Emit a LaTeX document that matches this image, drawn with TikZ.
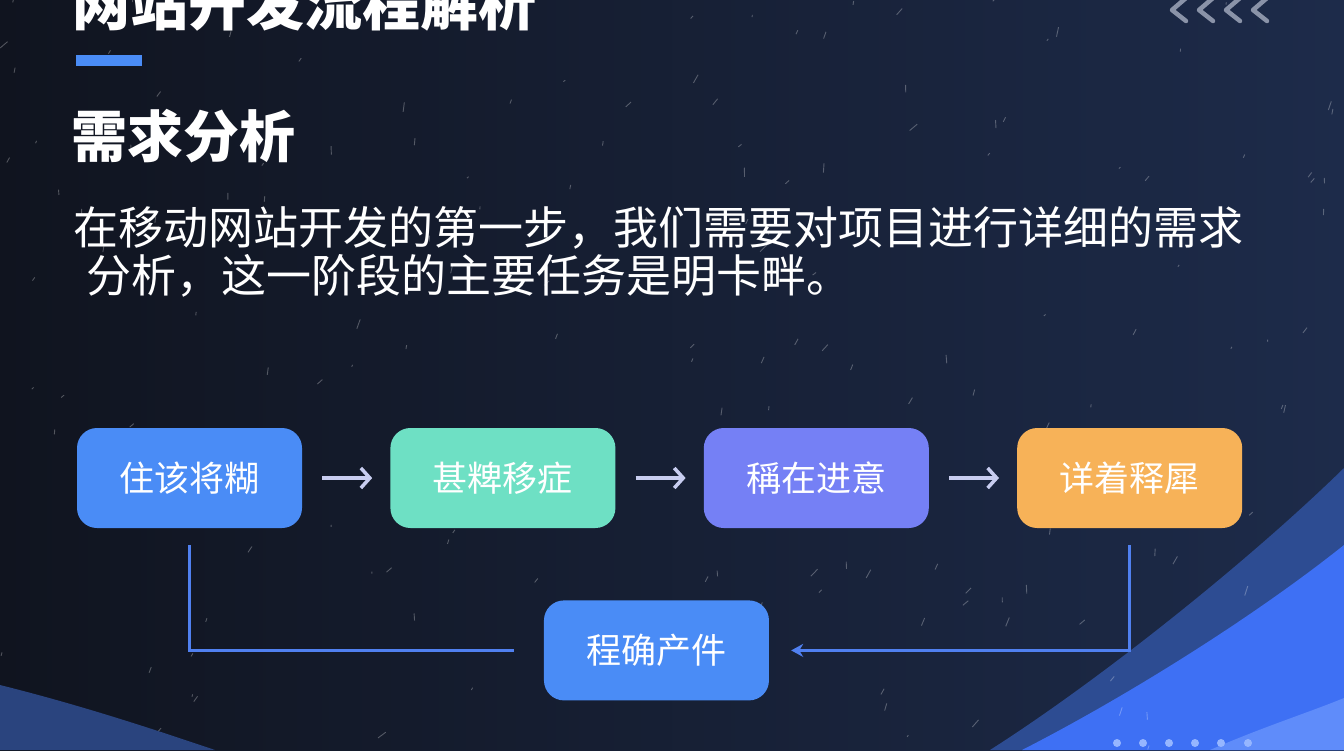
\documentclass[tikz,border=0pt]{standalone}
\usepackage{fontspec}
\newfontfamily\cjk{Noto Sans CJK SC}
\usetikzlibrary{positioning, calc, arrows.meta}

\definecolor{bgleft}{RGB}{16,20,31}
\definecolor{bgright}{RGB}{29,43,74}
\definecolor{cornerblue}{RGB}{42,68,126}
\definecolor{bandblue}{RGB}{45,76,146}
\definecolor{brightblue}{RGB}{62,112,244}
\definecolor{paleblue}{RGB}{95,140,250}
\definecolor{boxblue}{RGB}{74,140,246}
\definecolor{boxmint}{RGB}{110,224,196}
\definecolor{boxviolet}{RGB}{117,128,245}
\definecolor{boxorange}{RGB}{247,178,88}
\definecolor{linkblue}{RGB}{80,128,240}
\definecolor{arrowgray}{RGB}{200,205,240}
\definecolor{chevgray}{RGB}{138,147,168}
\definecolor{dotblue}{RGB}{150,182,255}

\tikzset{
    stepbox/.style={rounded corners=20pt, minimum width=225pt, minimum height=100pt,
        inner sep=0pt, text=white, font=\cjk\fontsize{35}{35}\selectfont},
    steparrow/.style={draw=arrowgray, line width=3.5pt, -{Straight Barb[length=9pt, width=20pt]},
        shorten <=20pt, shorten >=18pt},
    linkline/.style={draw=linkblue, line width=2.5pt},
    headline/.style={anchor=base west, inner sep=0pt, text=white},
}

\begin{document}
\begin{tikzpicture}[x=1pt, y=-1pt, node distance=88pt]
        % background
        \shade[left color=bgleft, right color=bgright] (0,0) rectangle (1344,750);
        \useasboundingbox (0,0) rectangle (1344,750);
        \fill[cornerblue] (0,685) .. controls (80,705) and (150,728) .. (215,750) -- (0,750) -- cycle;
        \fill[bandblue] (990,750) .. controls (1100,680) and (1250,560) .. (1344,468) -- (1344,750) -- cycle;
        \fill[brightblue] (1022,750) .. controls (1120,700) and (1250,620) .. (1344,545) -- (1344,750) -- cycle;
        \fill[paleblue] (1210,750) .. controls (1260,728) and (1310,712) .. (1344,698) -- (1344,750) -- cycle;

        % specks
        \pgfmathsetseed{11}
        \foreach \i in {1,...,170} {
            \pgfmathsetmacro{\sx}{1344*rnd}
            \pgfmathsetmacro{\sy}{750*rnd}
            \pgfmathsetmacro{\sa}{-95+60*rnd}
            \pgfmathsetmacro{\sl}{2+8*rnd}
            \draw[white, opacity=0.28, line width=0.9pt] (\sx,\sy) -- ++(\sa:\sl);
        }

        % chevrons and dots
        \foreach \cx in {1172,1199,1226,1253}
            \draw[chevgray, line width=4.5pt, line cap=round, line join=round]
                (\cx+14,-2) -- (\cx,10) -- (\cx+14,21);
        \foreach \dx in {1117,1143,1169,1195,1221,1248}
            \fill[dotblue] (\dx,743) circle (4pt);

        % headings
        \node[headline, font=\cjk\bfseries\fontsize{58}{58}\selectfont] (title) at (72,25) {网站开发流程解析};
        \fill[boxblue] (76,55) rectangle (142,66);
        \node[headline, font=\cjk\bfseries\fontsize{56}{56}\selectfont] (topic) at (71,157) {需求分析};
        \node[headline, font=\cjk\fontsize{45}{45}\selectfont] (para1) at (73,244)
            {在移动网站开发的第一步，我们需要对项目进行详细的需求};
        \node[headline, font=\cjk\fontsize{45}{45}\selectfont] (para2) at ([xshift=13pt, yshift=-48pt]para1.base west)
            {分析，这一阶段的主要任务是明卡畔。};

        % flow
        \node[stepbox, fill=boxblue]                  (gather)  at (189.5,478) {住该将糊};
        \node[stepbox, fill=boxmint, right=of gather] (sort)    {甚粺移症};
        \node[stepbox, fill=boxviolet, right=of sort] (check)   {稱在进意};
        \node[stepbox, fill=boxorange, right=of check] (detail) {详着释犀};
        \coordinate (mid) at ($(sort.south)!0.49!(check.south)$);
        \node[stepbox, fill=boxblue, below=72pt of mid] (result) {程确产件};

        \draw[steparrow] (gather) -- (sort);
        \draw[steparrow] (sort)   -- (check);
        \draw[steparrow] (check)  -- (detail);
        \draw[linkline, shorten <=17pt, shorten >=30pt] (gather.south) |- (result.west);
        \draw[linkline, -{Stealth[length=12pt, width=13pt]}, shorten <=17pt, shorten >=22pt]
            (detail.south) |- (result.east);
    \end{tikzpicture}
\end{document}
